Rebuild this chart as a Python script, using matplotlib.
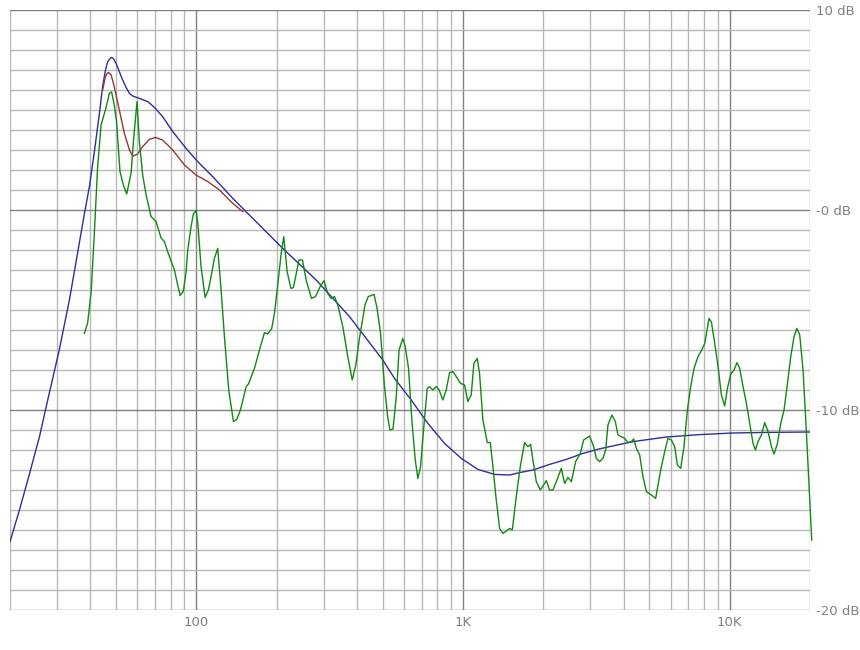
import numpy as np
import matplotlib
matplotlib.use("Agg")
import matplotlib.pyplot as plt
from matplotlib.ticker import FixedLocator, NullFormatter

# measured response (green)
meas_hz = [38.0, 39.1, 40.3, 41.4, 42.6, 43.9, 45.8, 47.2, 48.1, 49.2, 50.2, 51.7, 53.2, 54.8,
           56.9, 58.2, 59.9, 61.1, 62.9, 64.8, 67.6, 70.6, 73.7, 75.9, 78.0, 82.7, 86.9, 89.4,
           91.5, 92.8, 95.5, 97.4, 99.7, 101.1, 104.1, 107.8, 110.9, 113.5, 116.8, 120.2, 123.8,
           127.4, 132.2, 137.7, 141.7, 146.3, 153.7, 156.7, 165.1, 172.4, 180.0, 185.2, 191.7,
           196.2, 201.9, 207.9, 212.6, 218.9, 226.2, 231.2, 242.4, 249.9, 258.0, 270.1, 279.6,
           291.2, 300.9, 310.1, 320.2, 329.5, 339.0, 354.0, 369.6, 384.0, 396.1, 408.9, 428.8,
           440.9, 463.5, 475.7, 490.2, 507.5, 522.2, 532.2, 546.2, 561.6, 575.4, 594.6, 607.0,
           624.6, 642.6, 661.8, 676.8, 692.7, 712.7, 734.0, 748.7, 770.4, 793.4, 811.4, 839.9,
           864.9, 890.0, 915.8, 943.0, 978.6, 1013, 1042, 1073, 1098, 1130, 1153, 1187, 1233,
           1265, 1294, 1332, 1371, 1411, 1453, 1494, 1530, 1583, 1639, 1701, 1750, 1792, 1828,
           1882, 1949, 2005, 2052, 2111, 2173, 2237, 2336, 2404, 2474, 2547, 2643, 2753, 2832,
           2983, 3088, 3161, 3252, 3346, 3425, 3494, 3617, 3725, 3809, 3923, 4036, 4153, 4277,
           4363, 4466, 4595, 4728, 4869, 5084, 5276, 5509, 5703, 5867, 6042, 6217, 6364, 6548,
           6738, 6939, 7140, 7347, 7605, 7832, 8058, 8363, 8538, 8785, 9039, 9308, 9577, 9802,
           10086, 10378, 10651, 10902, 11217, 11551, 11885, 12229, 12485, 12768, 13149, 13530,
           13921, 14337, 14663, 15100, 15535, 15985, 16462, 16938, 17427, 17838, 18305, 18836,
           19397, 19836, 20300]
meas_db = [-6.17, -5.65, -4.1, -1.25, 2.1, 4.25, 5.1, 5.85, 5.9, 5.25, 4.42, 1.92, 1.25, 0.8,
           1.85, 3.6, 5.42, 3.42, 1.75, 0.75, -0.33, -0.58, -1.4, -1.58, -2.08, -3.0, -4.28, -4.05,
           -3.08, -2.0, -0.83, -0.2, -0.03, -0.58, -2.83, -4.37, -4.0, -3.33, -2.42, -1.92, -4.0,
           -6.33, -9.0, -10.58, -10.47, -10.0, -8.83, -8.7, -7.92, -7.0, -6.13, -6.2, -5.92,
           -5.17, -3.75, -2.17, -1.33, -3.08, -3.92, -3.88, -2.5, -2.5, -3.5, -4.42, -4.33,
           -3.83, -3.53, -4.15, -4.42, -4.33, -4.75, -5.83, -7.33, -8.5, -7.75, -6.4, -4.75,
           -4.33, -4.22, -4.9, -6.15, -8.83, -10.4, -11.0, -10.95, -9.35, -7.0, -6.42, -6.83,
           -7.92, -10.5, -12.5, -13.42, -12.83, -10.83, -8.92, -8.83, -9.0, -8.83, -8.97, -9.5,
           -9.0, -8.13, -8.08, -8.33, -8.67, -8.75, -9.58, -9.25, -7.67, -7.42, -8.17, -10.5, -11.63,
           -11.63, -12.83, -14.5, -15.92, -16.17, -16.05, -15.92, -16.0, -14.33, -12.83, -11.63, -11.83, -11.72, -12.5,
           -13.58, -14.0, -13.75, -13.53, -14.0, -14.0, -13.58, -12.92, -13.67, -13.37, -13.58, -12.58, -12.17, -11.5,
           -11.3, -11.83, -12.42, -12.58, -12.42, -12.0, -10.75, -10.25, -10.58, -11.25, -11.33, -11.42, -11.63, -11.58,
           -11.45, -11.92, -12.25, -13.33, -14.08, -14.25, -14.42, -13.0, -12.08, -11.42, -11.5, -11.83, -12.75, -12.92,
           -11.83, -10.0, -8.83, -7.92, -7.33, -7.03, -6.67, -5.42, -5.6, -6.67, -7.83, -9.25, -9.8, -8.92,
           -8.2, -8.0, -7.63, -7.92, -8.83, -9.67, -10.67, -11.67, -12.0, -11.58, -11.25, -10.63,
           -11.08, -11.83, -12.2, -11.67, -10.67, -10.0, -8.67, -7.33, -6.33, -5.92, -6.25, -8.0,
           -11.17, -13.83, -16.5]

# target curve (blue)
target_hz = [20.0, 21.7, 23.6, 25.8, 27.7, 30.6, 33.4, 36.1, 38.0, 39.7, 41.4, 43.3, 44.5,
             45.6, 46.5, 47.9, 48.8, 50.0, 51.4, 52.9, 54.5, 56.1, 57.7, 61.1, 65.7, 69.6, 74.7,
             81.5, 91.5, 101.1, 115.1, 136.9, 162.7, 210.8, 281.3, 375.1, 500.0, 553.4, 639.2,
             737.9, 852.4, 984.5, 1137, 1313, 1494, 1629, 1828, 2111, 2439, 2815, 3252, 4336,
             5787, 7718, 10289, 13728, 20000]
target_db = [-16.58, -15.0, -13.25, -11.33, -9.5, -7.0, -4.5, -1.92, -0.2, 1.17, 2.87, 4.85,
             6.17, 7.0, 7.42, 7.63, 7.58, 7.33, 6.92, 6.5, 6.13, 5.83, 5.7, 5.58, 5.42, 5.13,
             4.67, 3.92, 3.08, 2.42, 1.67, 0.58, -0.42, -1.92, -3.5, -5.33, -7.5, -8.42, -9.5,
             -10.67, -11.67, -12.42, -12.97, -13.22, -13.25, -13.13, -13.0, -12.72, -12.47,
             -12.17, -11.94, -11.58, -11.35, -11.23, -11.15, -11.12, -11.1]

# corrected low end (red)
corr_hz = [44.5, 45.6, 46.1, 46.8, 47.9, 49.2, 51.4, 53.7, 56.1, 57.4, 58.0, 60.2, 62.9, 66.6,
           70.2, 74.7, 81.5, 90.2, 99.7, 110.3, 122.0, 136.9, 149.2]
corr_db = [6.0, 6.67, 6.8, 6.88, 6.75, 6.17, 5.0, 3.83, 3.0, 2.75, 2.7, 2.8, 3.17, 3.53, 3.63,
           3.5, 3.0, 2.25, 1.75, 1.42, 1.0, 0.33, -0.08]

x_major = [100, 1000, 10000]
x_labels = ["100", "1K", "10K"]
y_major = [-20, -10, 0, 10]
y_labels = ["-20 dB", "-10 dB", "-0 dB", "10 dB"]

fig = plt.figure(figsize=(8.6, 6.5), dpi=100)
ax = fig.add_axes([10 / 860, 40 / 650, 800 / 860, 600 / 650])
ax.set_xscale("log")
ax.set_xlim(20, 20000)
ax.set_ylim(-20, 10)

minor_x = [m * 10 ** e for e in (1, 2, 3) for m in range(2, 10)] + [20000]
ax.xaxis.set_major_locator(FixedLocator(x_major))
ax.xaxis.set_minor_locator(FixedLocator(minor_x))
ax.xaxis.set_minor_formatter(NullFormatter())
ax.set_xticklabels(x_labels)
ax.yaxis.set_major_locator(FixedLocator(y_major))
ax.yaxis.set_minor_locator(FixedLocator(list(range(-20, 11))))
ax.set_yticklabels(y_labels)
ax.yaxis.tick_right()

ax.grid(which="minor", color="#b8b8b8", linewidth=1.0)
ax.grid(which="major", color="#808080", linewidth=1.0)
ax.set_axisbelow(True)
for s in ax.spines.values():
    s.set_visible(False)
ax.tick_params(which="both", length=0, colors="#808080", labelsize=9.5)
ax.tick_params(axis="y", pad=4)
ax.tick_params(axis="x", pad=4)

ax.plot(target_hz, target_db, color="#2e2e9a", linewidth=1.0)
ax.plot(corr_hz, corr_db, color="#9a3535", linewidth=1.0)
ax.plot(meas_hz, meas_db, color="#108a10", linewidth=1.0, clip_on=False)

fig.savefig("out.png", dpi=100)
